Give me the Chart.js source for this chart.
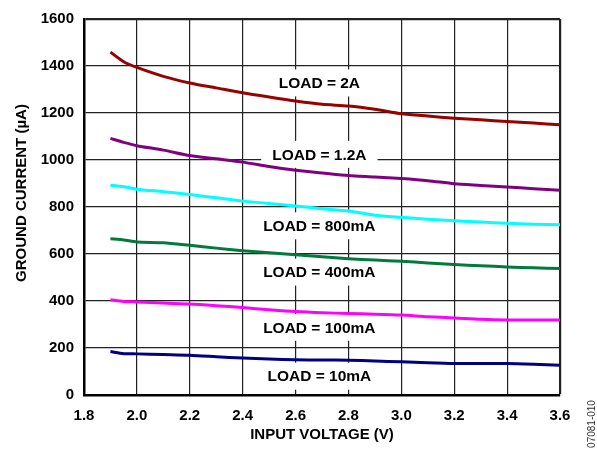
<!DOCTYPE html>
<html>
<head>
<meta charset="utf-8">
<script src="https://cdn.jsdelivr.net/npm/chart.js@4/dist/chart.umd.min.js"></script>
<style>
  html, body { margin: 0; padding: 0; background: #fff; }
  canvas { display: block; }
</style>
</head>
<body>
<canvas id="c" width="597" height="451"></canvas>
<script>
// ---- Data ----
const voltage = [1.9, 1.95, 2.0, 2.1, 2.2, 2.3, 2.4, 2.5, 2.6, 2.7, 2.8, 2.9, 3.0, 3.1, 3.2, 3.3, 3.4, 3.5, 3.6];
const load2A    = [1459, 1418, 1394, 1356, 1328, 1307, 1286, 1268, 1251, 1237, 1230, 1216, 1197, 1187, 1178, 1171, 1164, 1157, 1150];
const load1p2A  = [1092, 1075, 1061, 1042, 1019, 1005, 991, 972, 956, 945, 934, 928, 921, 912, 899, 892, 885, 878, 871];
const load800mA = [893, 886, 876, 865, 853, 839, 825, 815, 804, 793, 783, 765, 756, 748, 741, 736, 731, 727, 724];
const load400mA = [665, 660, 651, 648, 637, 625, 614, 605, 597, 588, 580, 574, 569, 562, 555, 550, 545, 541, 538];
const load100mA = [405, 398, 396, 391, 387, 380, 372, 363, 355, 350, 347, 344, 340, 333, 328, 322, 319, 319, 319];
const load10mA  = [185, 176, 175, 172, 169, 163, 157, 153, 150, 149, 148, 145, 141, 137, 134, 134, 134, 131, 127];

const seriesNames = ['LOAD = 2A', 'LOAD = 1.2A', 'LOAD = 800mA', 'LOAD = 400mA', 'LOAD = 100mA', 'LOAD = 10mA'];
const seriesColors = ['#990000', '#800080', '#00FFFF', '#007A3D', '#FF00FF', '#000080'];
const seriesValues = [load2A, load1p2A, load800mA, load400mA, load100mA, load10mA];
// label anchors in data units (voltage, current)
const labelVoltage = [2.69, 2.69, 2.69, 2.69, 2.69, 2.69];
const labelCurrent = [1328, 1024, 720, 523, 288, 80];

const xTicks = { min: 1.8, max: 3.6, step: 0.2 };
const yTicks = { min: 0, max: 1600, step: 200 };

const FONT = '"Liberation Sans", Arial, Helvetica, sans-serif';

const datasets = seriesValues.map((vals, i) => ({
  label: seriesNames[i],
  data: voltage.map((v, j) => ({ x: v, y: vals[j] })),
  borderColor: seriesColors[i],
  backgroundColor: seriesColors[i],
  borderWidth: 3,
  pointRadius: 0,
  tension: 0.25,
  fill: false
}));

const labelPlugin = {
  id: 'loadLabels',
  beforeDatasetsDraw(chart) {
    const { ctx, scales: { x, y } } = chart;
    ctx.save();
    ctx.font = 'bold 15.5px ' + FONT;
    ctx.textAlign = 'center';
    ctx.textBaseline = 'middle';
    seriesNames.forEach((t, i) => {
      const px = x.getPixelForValue(labelVoltage[i]);
      const py = y.getPixelForValue(labelCurrent[i]);
      const w = ctx.measureText(t).width + 22;
      const h = 27;
      ctx.fillStyle = '#fff';
      ctx.fillRect(px - w / 2, py - h / 2, w, h);
      ctx.fillStyle = '#000';
      ctx.fillText(t, px, py + 1);
    });
    ctx.restore();
  },
  afterDraw(chart) {
    const { ctx } = chart;
    ctx.save();
    // y axis title
    ctx.translate(22, 193);
    ctx.rotate(-Math.PI / 2);
    ctx.font = 'bold 15px ' + FONT;
    ctx.textAlign = 'center';
    ctx.textBaseline = 'middle';
    ctx.fillStyle = '#000';
    ctx.fillText('GROUND CURRENT (µA)', 0, 0);
    ctx.restore();
    // figure code
    ctx.save();
    ctx.translate(592, 424);
    ctx.rotate(-Math.PI / 2);
    ctx.font = '10px ' + FONT;
    ctx.textAlign = 'center';
    ctx.textBaseline = 'middle';
    ctx.fillStyle = '#333';
    ctx.fillText('07081-010', 0, 0);
    ctx.restore();
  }
};

new Chart(document.getElementById('c'), {
  type: 'line',
  data: { datasets },
  plugins: [labelPlugin],
  options: {
    responsive: false,
    animation: false,
    layout: { padding: { top: 16, right: 37, left: 0, bottom: 0 } },
    plugins: { legend: { display: false }, tooltip: { enabled: false } },
    scales: {
      x: {
        type: 'linear',
        min: xTicks.min, max: xTicks.max,
        ticks: {
          stepSize: xTicks.step,
          callback: v => Number(v).toFixed(1),
          font: { family: FONT, size: 15, weight: 'bold' },
          color: '#000',
          padding: 12,
          maxRotation: 0
        },
        grid: {
          color: '#222',
          lineWidth: c => (c.tick && Math.abs(c.tick.value - xTicks.max) < 1e-6) ? 2.2 : 1.2,
          drawTicks: false
        },
        border: { color: '#000', width: 2.5 },
        title: {
          display: true,
          text: 'INPUT VOLTAGE (V)',
          font: { family: FONT, size: 15, weight: 'bold' },
          color: '#000',
          padding: { top: 0, bottom: 7 }
        },
        afterFit: s => { s.height = 56; }
      },
      y: {
        type: 'linear',
        min: yTicks.min, max: yTicks.max,
        ticks: {
          stepSize: yTicks.step,
          callback: v => String(Math.round(v)),
          font: { family: FONT, size: 15, weight: 'bold' },
          color: '#000',
          padding: 10
        },
        grid: {
          color: '#222',
          lineWidth: c => (c.tick && c.tick.value === yTicks.max) ? 2.2 : 1.2,
          drawTicks: false
        },
        border: { color: '#000', width: 2.5 },
        afterFit: s => { s.width = 84; }
      }
    }
  }
});
</script>
</body>
</html>
